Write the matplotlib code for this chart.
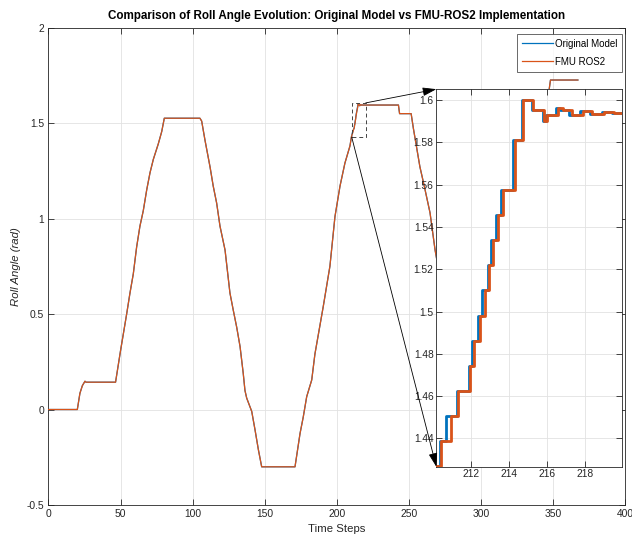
import numpy as np
import matplotlib
matplotlib.use('Agg')
import matplotlib.pyplot as plt
from matplotlib.patches import Rectangle, ConnectionPatch
from matplotlib.ticker import FuncFormatter

# ---------------- data ----------------
# shared coarse roll profile before the zoom window (both series overlap)
t_pre = [0, 20, 21.8, 23.5, 25.3, 26, 46.5, 50, 54.2, 56.5, 58.8, 61.1, 63.4, 65.7,
         68.1, 70.4, 72.7, 76.1, 78.5, 80.3, 105, 106.2, 108.5, 112, 114.2, 116.6,
         118.9, 122.4, 125.8, 128.1, 130.5, 132.8, 135, 136.2, 137.4, 140.9, 143.2,
         145.5, 147.8, 170.9, 174.4, 176.6, 179, 182.5, 184.7, 190.5, 195.1, 198.6,
         202.1, 205.5, 209]
roll_pre = [0, 0, 0.085, 0.125, 0.148, 0.143, 0.143, 0.31, 0.50, 0.61, 0.71, 0.85, 0.96,
            1.04, 1.15, 1.24, 1.31, 1.39, 1.455, 1.525, 1.525, 1.51, 1.41, 1.27, 1.17,
            1.08, 0.96, 0.835, 0.61, 0.52, 0.43, 0.33, 0.19, 0.10, 0.06, -0.01, -0.107,
            -0.21, -0.30, -0.30, -0.125, -0.04, 0.067, 0.155, 0.29, 0.54, 0.75, 1.01,
            1.17, 1.29, 1.38]

# shared coarse roll profile after the zoom window
t_post = [220.5, 242.6, 243.4, 251.4, 253, 257.5, 260.5, 264.5, 268, 270, 280, 291,
          312, 330, 348, 367]
roll_post = [1.594, 1.594, 1.549, 1.549, 1.47, 1.27, 1.17, 1.03, 0.835, 0.75, 0.30,
             -0.25, -0.25, 0.75, 1.725, 1.725]

# detailed staircase inside the zoom window
t_orig_zoom = [210.0, 210.37, 210.72, 211.28, 211.90, 212.09, 212.40, 212.60, 212.91,
               213.08, 213.30, 213.60, 214.19, 214.66, 215.19, 215.76, 215.92, 216.46,
               216.67, 217.16, 217.72, 218.25, 218.86, 219.38, 220.0]
roll_orig_zoom = [1.4268, 1.4387, 1.4506, 1.4625, 1.4742, 1.4862, 1.4980, 1.5100, 1.5220,
                  1.5337, 1.5455, 1.5574, 1.5812, 1.6000, 1.5953, 1.5902, 1.5929, 1.5961,
                  1.5953, 1.5931, 1.5948, 1.5936, 1.5944, 1.5938, 1.5938]
t_fmu_zoom = [210.0, 210.46, 210.99, 211.35, 211.96, 212.19, 212.49, 212.73, 212.96,
              213.17, 213.43, 213.69, 214.34, 214.71, 215.27, 215.83, 215.97, 216.58,
              216.84, 217.32, 217.87, 218.37, 218.95, 219.48, 220.0]
roll_fmu_zoom = [1.4268, 1.4387, 1.4506, 1.4625, 1.4742, 1.4862, 1.4980, 1.5100, 1.5220,
                 1.5337, 1.5455, 1.5574, 1.5812, 1.6000, 1.5953, 1.5902, 1.5929, 1.5961,
                 1.5953, 1.5931, 1.5948, 1.5936, 1.5944, 1.5938, 1.5938]

x_ticks = [0, 50, 100, 150, 200, 250, 300, 350, 400]
y_ticks = [-0.5, 0, 0.5, 1, 1.5, 2]
zoom_x_ticks = [212, 214, 216, 218]
zoom_y_ticks = [1.44, 1.46, 1.48, 1.5, 1.52, 1.54, 1.56, 1.58, 1.6]
zoom_xlim = (210.2, 219.9)
zoom_ylim = (1.4266, 1.6052)

labels = ['Original Model', 'FMU ROS2']
title = 'Comparison of Roll Angle Evolution: Original Model vs FMU-ROS2 Implementation'

# ---------------- style ----------------
BLUE = '#0072BD'
ORANGE = '#D95319'
AX = '#262626'
GRID = '#e2e2e2'
FS = 7.4
plt.rcParams['font.family'] = ['Liberation Sans', 'DejaVu Sans']
plt.rcParams['axes.unicode_minus'] = False

fmt = FuncFormatter(lambda v, p: '%g' % v)

t_orig = np.concatenate([t_pre, t_orig_zoom, t_post])
r_orig = np.concatenate([roll_pre, roll_orig_zoom, roll_post])
t_fmu = np.concatenate([t_pre, t_fmu_zoom, t_post])
r_fmu = np.concatenate([roll_pre, roll_fmu_zoom, roll_post])

fig = plt.figure(figsize=(6.32, 5.34), dpi=100)
ax = fig.add_axes([0.0767, 0.0543, 0.913, 0.8942])

ax.plot(t_orig, r_orig, color=BLUE, lw=0.9, label=labels[0], zorder=3)
ax.plot(t_fmu, r_fmu, color=ORANGE, lw=0.9, label=labels[1], zorder=4)

def style_axes(a, fs):
    for s in a.spines.values():
        s.set_color(AX)
        s.set_linewidth(0.6)
    a.tick_params(direction='in', which='both', top=True, right=True,
                  colors=AX, labelcolor=AX, labelsize=fs, width=0.6, length=4, pad=3)
    a.grid(True, color=GRID, lw=0.6)
    a.set_axisbelow(True)
    a.xaxis.set_major_formatter(fmt)
    a.yaxis.set_major_formatter(fmt)

ax.set_xlim(0, 400)
ax.set_ylim(-0.5, 2)
ax.set_xticks(x_ticks)
ax.set_yticks(y_ticks)
style_axes(ax, FS)
ax.set_xlabel('Time Steps', fontsize=8.2, color=AX, labelpad=3.5)
ax.set_ylabel('Roll Angle (rad)', fontsize=8.2, color=AX, style='italic', labelpad=4)
ax.set_title(title, fontsize=8.4, fontweight='bold', color='black', pad=6)

leg = ax.legend(loc='upper right', bbox_to_anchor=(622 / 632, 1 - 34 / 534),
                bbox_transform=fig.transFigure, borderaxespad=0,
                fontsize=7.0, frameon=True, fancybox=False,
                handlelength=3.2, handletextpad=0.2,
                labelspacing=0.8, borderpad=0.5)
leg.get_frame().set_edgecolor(AX)
leg.get_frame().set_linewidth(0.6)
for txt in leg.get_texts():
    txt.set_color('black')

# zoom rectangle on main axes
rect = Rectangle((zoom_xlim[0], zoom_ylim[0]), zoom_xlim[1] - zoom_xlim[0],
                 zoom_ylim[1] - zoom_ylim[0], fill=False, ls=(0, (4, 3)),
                 lw=0.7, ec='#444444', zorder=5)
ax.add_patch(rect)

# inset axes
axin = fig.add_axes([0.6904, 0.126, 0.2933, 0.707])
axin.plot(t_orig_zoom, roll_orig_zoom, color=BLUE, lw=2.0, drawstyle='steps-post', zorder=3)
axin.plot(t_fmu_zoom, roll_fmu_zoom, color=ORANGE, lw=2.0, drawstyle='steps-post', zorder=4)
axin.set_xlim(*zoom_xlim)
axin.set_ylim(*zoom_ylim)
axin.set_xticks(zoom_x_ticks)
axin.set_yticks(zoom_y_ticks)
style_axes(axin, FS)
axin.tick_params(pad=2)
axin.set_facecolor('white')

# arrows from rectangle corners to inset corners
for (xd, yd), (xa, ya) in [((zoom_xlim[1], zoom_ylim[1]), (0, 1)),
                           ((zoom_xlim[0], zoom_ylim[0]), (0, 0))]:
    cp = ConnectionPatch(xyA=(xd, yd), coordsA=ax.transData,
                         xyB=(xa, ya), coordsB=axin.transAxes,
                         arrowstyle='-|>,head_length=0.7,head_width=0.22',
                         color='black', lw=0.6, mutation_scale=12, shrinkA=0, shrinkB=0)
    cp.set_zorder(10)
    fig.add_artist(cp)

fig.savefig('out.png', dpi=100)
